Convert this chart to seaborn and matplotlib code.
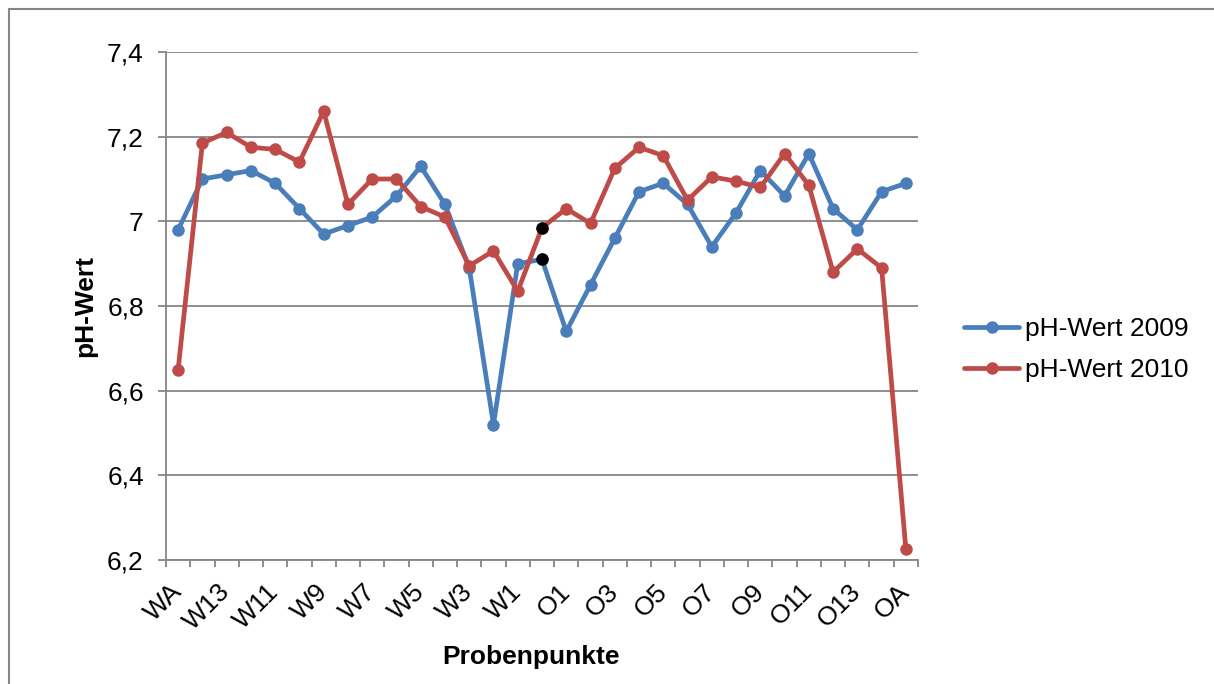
import numpy as np
import pandas as pd
import matplotlib
matplotlib.use("Agg")
import matplotlib.pyplot as plt
import seaborn as sns
from matplotlib.lines import Line2D

# Probenpunkte (index 15 sits between W1 and O1, its label is not shown)
points = ["WA", "W14", "W13", "W12", "W11", "W10", "W9", "W8", "W7", "W6",
          "W5", "W4", "W3", "W2", "W1", "M", "O1", "O2", "O3", "O4", "O5",
          "O6", "O7", "O8", "O9", "O10", "O11", "O12", "O13", "O14", "OA"]

ph_2009 = [6.98, 7.10, 7.11, 7.12, 7.09, 7.03, 6.97, 6.99, 7.01, 7.06,
           7.13, 7.04, 6.89, 6.52, 6.90, 6.91, 6.74, 6.85, 6.96, 7.07, 7.09,
           7.04, 6.94, 7.02, 7.12, 7.06, 7.16, 7.03, 6.98, 7.07, 7.09]

ph_2010 = [6.65, 7.185, 7.21, 7.175, 7.17, 7.14, 7.26, 7.04, 7.10, 7.10,
           7.035, 7.01, 6.895, 6.93, 6.835, 6.985, 7.03, 6.995, 7.125, 7.175, 7.155,
           7.05, 7.105, 7.095, 7.08, 7.16, 7.085, 6.88, 6.935, 6.89, 6.225]

series_names = ["pH-Wert 2009", "pH-Wert 2010"]
colors = ["#4A7EBB", "#BE4B48"]
highlight = "M"  # marked in black

pos = np.arange(len(points))
df = pd.concat([
    pd.DataFrame({"pos": pos, "punkt": points, "wert": ph_2009, "serie": series_names[0]}),
    pd.DataFrame({"pos": pos, "punkt": points, "wert": ph_2010, "serie": series_names[1]}),
])

sns.set_style("white")
plt.rcParams["font.family"] = ["Liberation Sans", "DejaVu Sans"]
plt.rcParams["text.color"] = "black"
plt.rcParams["xtick.color"] = "black"
plt.rcParams["ytick.color"] = "black"

fs = 19
fig = plt.figure(figsize=(12.14, 6.84), dpi=100)
ax = fig.add_axes([166 / 1214, 1 - 560 / 684, (918 - 166) / 1214, (560 - 52) / 684])

sns.lineplot(data=df, x="pos", y="wert", hue="serie", palette=colors,
             marker="o", markersize=9, markeredgewidth=0, linewidth=3.4,
             ax=ax, legend=False)
hl = df[df["punkt"] == highlight]
sns.scatterplot(data=hl, x="pos", y="wert", color="black", s=80,
                linewidth=0, ax=ax, zorder=5, legend=False)

grid_c = "#868686"
ax.set_ylim(6.2, 7.4)
ax.set_yticks(np.arange(6.2, 7.41, 0.2))
ax.set_yticklabels([f"{v:.1f}".replace(".", ",").replace(",0", "") for v in np.arange(6.2, 7.41, 0.2)])
ax.yaxis.grid(True, color=grid_c, linewidth=1.3)
ax.set_xlim(-0.5, len(points) - 0.5)

# major ticks at category boundaries, labels on every second category
ax.set_xticks(np.arange(-0.5, len(points), 1.0))
ax.set_xticklabels([])
ax.set_xticks(pos[::2], minor=True)
ax.set_xticklabels(points[::2], minor=True, rotation=45, ha="right",
                   va="center", rotation_mode="anchor")
ax.tick_params(axis="x", which="major", direction="out", length=5,
               color=grid_c, width=1.3, bottom=True)
ax.tick_params(axis="x", which="minor", length=0, pad=20, labelsize=fs)
ax.tick_params(axis="y", direction="out", length=6, color=grid_c,
               width=1.3, left=True, labelsize=fs, pad=10)

for s in ["top", "right"]:
    ax.spines[s].set_visible(False)
for s in ["left", "bottom"]:
    ax.spines[s].set_color(grid_c)
    ax.spines[s].set_linewidth(1.3)

ax.set_xlabel("")
ax.set_ylabel("")
fig.text(531 / 1214, 1 - 657 / 684, "Probenpunkte", fontsize=fs,
         fontweight="bold", ha="center", va="center")
fig.text(85 / 1214, 1 - 306 / 684, "pH-Wert", fontsize=fs,
         fontweight="bold", ha="center", va="center", rotation=90)

handles = [Line2D([], [], color=c, linewidth=3.4, marker="o", markersize=9,
                  markeredgewidth=0) for c in colors]
fig.legend(handles, series_names, loc="center left",
           bbox_to_anchor=(964 / 1214, 1 - 349.5 / 684), frameon=False,
           fontsize=fs, handlelength=2.1, handletextpad=0.2,
           labelspacing=0.65, borderpad=0, borderaxespad=0)

# outer chart border (visible on top and left)
fig.add_artist(Line2D([8.5 / 1214, 1], [1 - 8.5 / 684] * 2, color=grid_c, linewidth=1.5))
fig.add_artist(Line2D([8.5 / 1214] * 2, [0, 1 - 8.5 / 684], color=grid_c, linewidth=1.5))

fig.savefig("out.png", dpi=100)
